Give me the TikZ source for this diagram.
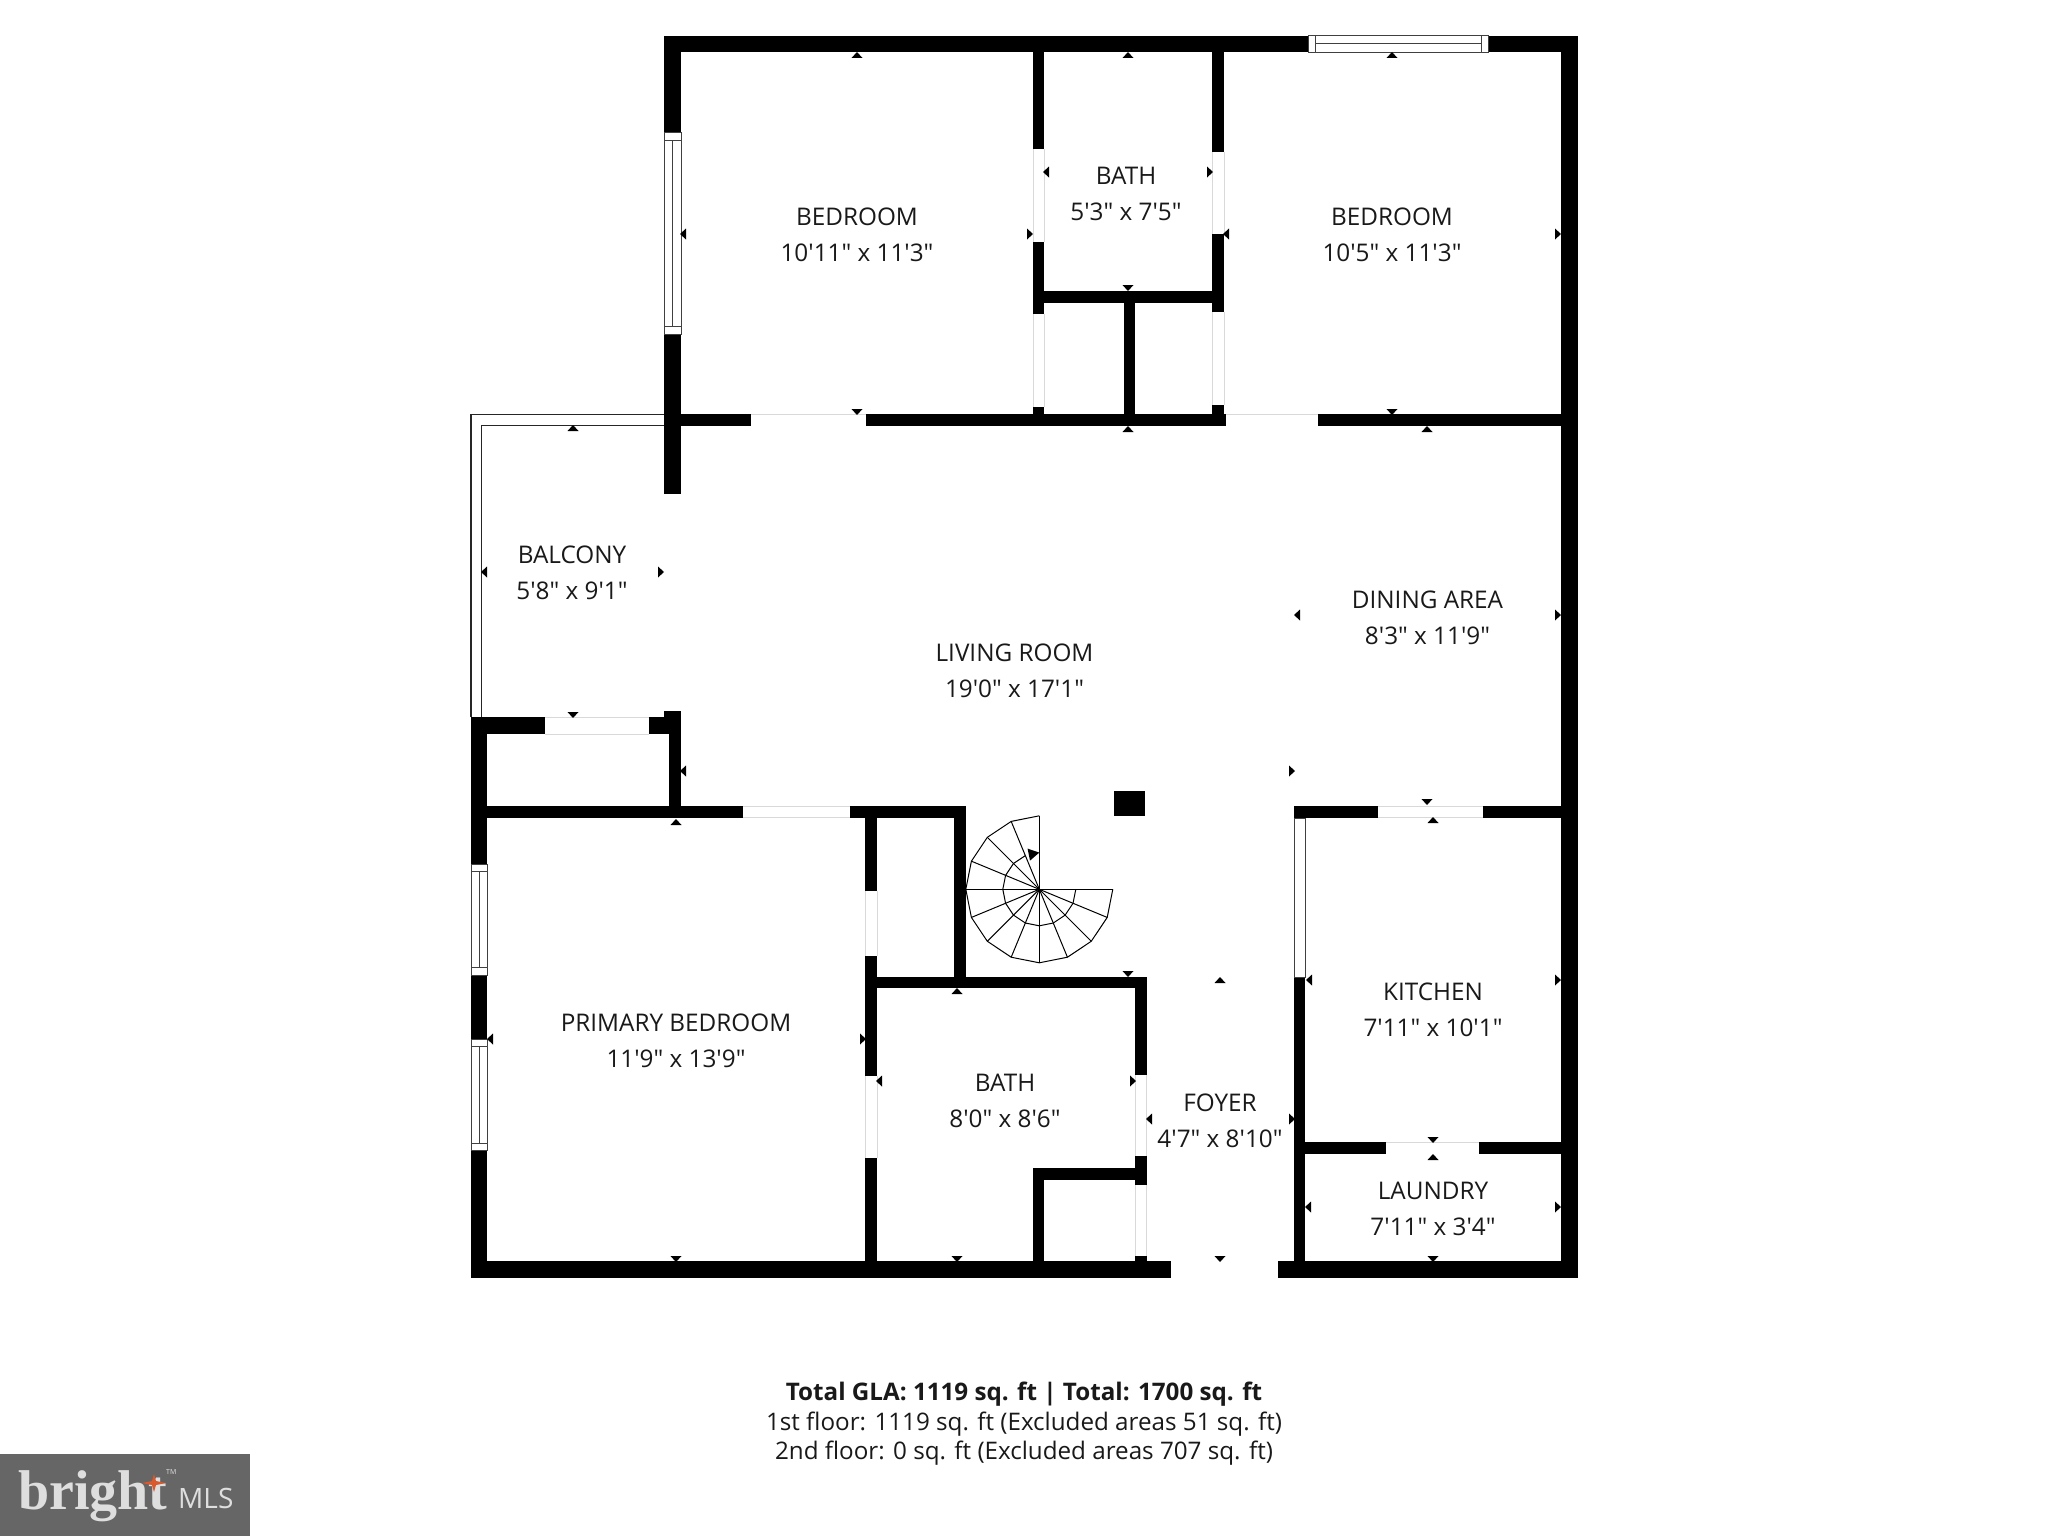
\documentclass[tikz,border=0pt]{standalone}
\usepackage{fontspec}
\newfontfamily\planfont{Open Sans}
\newfontfamily\logofont{Liberation Serif}
\definecolor{logogray}{HTML}{666666}
\definecolor{logotext}{HTML}{DEDEDE}
\definecolor{logostar}{HTML}{D9582C}
\tikzset{
	wall/.style={fill=black},
	doorline/.style={draw=black!15, line width=.8pt},
	windowline/.style={draw=black!75, line width=1pt, fill=white},
	railline/.style={draw=black!85, line width=1.5pt},
	stairline/.style={draw=black, line width=1pt},
	roomtext/.style={anchor=base, inner sep=0pt, font=\planfont\fontsize{24.3}{28}\selectfont, text=black!90},
	totaltext/.style={anchor=base, inner sep=0pt, font=\planfont\fontsize{24.2}{28}\selectfont, text=black!90},
}
\begin{document}
\begin{tikzpicture}[x=1pt, y=-1pt]
	\useasboundingbox (0,0) rectangle (2048,1536);
	\fill [white] (0,0) rectangle (2048,1536);
	% balcony rail
	\draw [railline] (664,414.7) -- (471,414.7) -- (471,717);
	\draw [railline] (664,425.3) -- (481.7,425.3) -- (481.7,717);
	% door openings
	\foreach \xa/\ya/\xb/\yb in {751/414.5/866/414.5, 1224/414.5/1318/414.5,
		1033/149/1033/242, 1044/149/1044/242, 1033/314/1033/407, 1044/314/1044/407,
		1212.3/152/1212.3/234, 1224/152/1224/234, 1212.3/312/1212.3/405, 1224/312/1224/405,
		545/717.5/649/717.5, 545/734/649/734, 743/806.5/850/806.5, 743/817.5/850/817.5,
		865.3/891/865.3/956, 877/891/877/956, 865.3/1076/865.3/1158, 877/1076/877/1158,
		1135.3/1075/1135.3/1156, 1146.7/1075/1146.7/1156, 1135.3/1185/1135.3/1256, 1146.7/1185/1146.7/1256,
		1378/806.5/1483/806.5, 1378/817.5/1483/817.5, 1386/1142.5/1479/1142.5} {
		\draw [doorline] (\xa,\ya) -- (\xb,\yb);
	}
	% walls
	\foreach \xa/\ya/\xb/\yb in {664/36/1308.3/52.3, 1488.7/36/1577.7/52.3, 664/36/681/133, 664/334/681/494,
		1032.7/52/1044/149, 1032.7/242/1044/314, 1032.7/407/1044/420, 1044/290.7/1212.3/302.7, 1123.7/302/1135/415,
		1212.3/52/1224/152, 1212.3/234/1224/312, 1212.3/405/1224/420,
		681/414.3/751/426, 865.7/414.3/1226/426, 1318.3/414.3/1561/426, 1560.7/36/1577.7/1278.3,
		471/717.3/544.7/734.3, 649.3/717.3/680.7/734.3, 663.7/710.7/680.7/734, 669/734/680.7/812,
		471/717/487.3/864, 471/975/487.3/1039, 471/1151/487.3/1278.3,
		487/806.3/743.3/817.7, 849.7/806.3/965.7/817.7, 954/806.3/965.7/980,
		865.3/806.3/877/891, 865.3/956/877/1076, 865.3/1158/877/1262,
		877/976.7/1146.7/988.3, 1135.3/976.7/1146.7/1075, 1135.3/1156/1146.7/1185, 1135.3/1256/1146.7/1262,
		1032.7/1168.3/1135.3/1179.7, 1032.7/1168.3/1044.3/1262,
		471/1261/1171/1278.3, 1278/1261/1578/1278.3,
		1294/806/1377.7/817.7, 1482.7/806/1561/817.7, 1294/977/1305.3/1262,
		1305/1142.3/1386/1154.3, 1479.3/1142.3/1561/1154.3,
		1114/790.7/1144.7/816} {
		\fill [wall] (\xa,\ya) rectangle (\xb,\yb);
	}
	% windows
	\foreach \xa/\xb/\ya/\yb in {664/681/133/334, 471/487.3/864.3/975.3, 471/487.3/1039.3/1150.7} {
		\draw [windowline] (\xa,\ya) rectangle (\xb,\yb);
		\draw [windowline] (\xa,\ya+7.5) -- (\xb,\ya+7.5);
		\draw [windowline] (\xa,\yb-7.5) -- (\xb,\yb-7.5);
		\draw [windowline] ({(\xa+\xb)/2},\ya+7.5) -- ({(\xa+\xb)/2},\yb-7.5);
	}
	\draw [windowline] (1308.3,36) rectangle (1488.7,52.3);
	\draw [windowline] (1315.7,36) -- (1315.7,52.3);
	\draw [windowline] (1481.7,36) -- (1481.7,52.3);
	\draw [windowline] (1315.7,44) -- (1481.7,44);
	\draw [windowline] (1294.8,818) rectangle (1305,977);
	% spiral stairs
	\begin{scope}[shift={(1039.3,889.3)}]
		\foreach \a in {0,22.5,...,270} {
			\draw [stairline] (0,0) -- (\a:73.5);
		}
		\draw [stairline] (0:73.5) \foreach \a in {22.5,45,...,270} { -- (\a:73.5) };
		\draw [stairline] (0:36.5) \foreach \a in {22.5,45,...,247.5} { -- (\a:36.5) };
		\fill (-11.7,-40.7) -- (0,-36.7) -- (-9.3,-28.7) -- cycle;
	\end{scope}
	% size marks
	\foreach \x/\y in {857/55, 1128/55, 1392/55, 1128/429, 1427/429, 573/428, 676/822, 1433/820, 1433/1157, 957/991, 1220/980} {
		\fill (\x-5.5,\y+3) -- (\x+5.5,\y+3) -- (\x,\y-3) -- cycle;
	}
	\foreach \x/\y in {857/412, 1392/412, 1128/288, 573/715, 1427/802, 1128/974, 1433/1140, 1433/1259, 676/1259, 957/1259, 1220/1259} {
		\fill (\x-5.5,\y-3) -- (\x+5.5,\y-3) -- (\x,\y+3) -- cycle;
	}
	\foreach \x/\y in {683/234, 1046/172, 1226/234, 484/572, 683/771, 1297/615, 1309/980, 1308/1207, 490/1039, 879/1081, 1149/1119} {
		\fill (\x+3,\y-5.5) -- (\x+3,\y+5.5) -- (\x-3,\y) -- cycle;
	}
	\foreach \x/\y in {1030/234, 1210/172, 1558/234, 661/572, 1292/771, 1558/615, 1558/980, 1558/1207, 863/1039, 1133/1081, 1292/1119} {
		\fill (\x-3,\y-5.5) -- (\x-3,\y+5.5) -- (\x+3,\y) -- cycle;
	}
	% room labels
	\foreach \rm/\x/\y/\nm/\dm in {bedroomA/857/225/BEDROOM/10'11" x 11'3", bathA/1126/184/BATH/5'3" x 7'5",
		bedroomB/1392/225/BEDROOM/10'5" x 11'3", balcony/572/563/BALCONY/5'8" x 9'1",
		living/1014.5/661/LIVING ROOM/19'0" x 17'1", dining/1427.5/608/DINING AREA/8'3" x 11'9",
		kitchen/1433/1000/KITCHEN/7'11" x 10'1", laundry/1433/1199/LAUNDRY/7'11" x 3'4",
		primary/676/1031/PRIMARY BEDROOM/11'9" x 13'9", bathB/1005/1091/BATH/8'0" x 8'6",
		foyer/1220/1111/FOYER/4'7" x 8'10"} {
		\node [roomtext] (\rm) at (\x,\y) {\nm};
		\node [roomtext] (\rm dim) at (\x,\y+36) {\dm};
	}
	% totals
	\node [totaltext] (totalA) at (1024,1400) {\bfseries Total GLA: 1119 sq. ft | Total: 1700 sq. ft};
	\node [totaltext] (totalB) at (1024,1430) {1st floor: 1119 sq. ft (Excluded areas 51 sq. ft)};
	\node [totaltext] (totalC) at (1024,1459) {2nd floor: 0 sq. ft (Excluded areas 707 sq. ft)};
	% logo
	\fill [logogray] (0,1454) rectangle (250,1536);
	\node [anchor=base west, inner sep=0pt, text=logotext, font=\logofont\bfseries\fontsize{56}{60}\selectfont] (logo) at (18,1509) {bright};
	\node [anchor=base west, inner sep=0pt, text=logotext, font=\planfont\fontsize{28}{30}\selectfont] (mls) at (178,1508) {MLS};
	\node [anchor=base west, inner sep=0pt, text=logotext, font=\planfont\fontsize{7}{8}\selectfont] (tm) at (166,1474) {TM};
	\fill [logostar] (142,1483) -- (152,1481) -- (154,1474) -- (156,1481) -- (166,1483) -- (156,1485) -- (154,1492) -- (152,1485) -- cycle;
\end{tikzpicture}
\end{document}
